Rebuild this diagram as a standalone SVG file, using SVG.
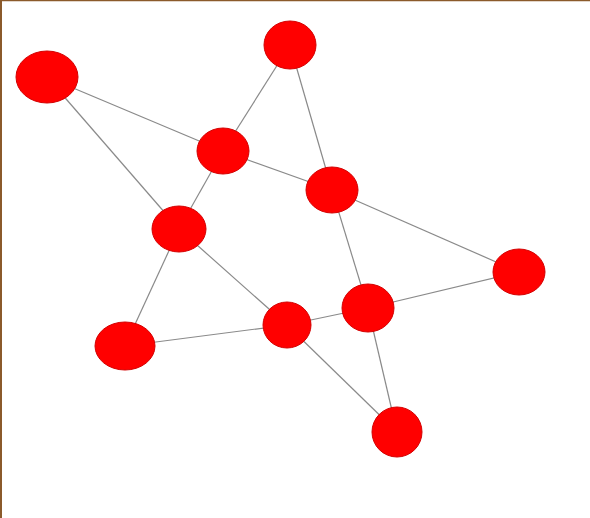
<svg xmlns="http://www.w3.org/2000/svg" width="590" height="518" viewBox="0 0 590 518">
<style>
.e{stroke:#8a8a8a;stroke-width:1.2;fill:none}
.n{fill:#ff0000;stroke:#d40000;stroke-width:1}
</style>
<rect x="0" y="0" width="590" height="518" fill="#ffffff"/>
<line x1="0" y1="0.5" x2="590" y2="0.5" stroke="#8b5a2b" stroke-width="1.5"/>
<line x1="1" y1="0" x2="1" y2="518" stroke="#8b5a2b" stroke-width="2"/>
<g id="edges">
<line class="e" x1="47" y1="77" x2="223" y2="151"/>
<line class="e" x1="223" y1="151" x2="332" y2="190"/>
<line class="e" x1="332" y1="190" x2="519" y2="272"/>
<line class="e" x1="47" y1="77" x2="179" y2="229"/>
<line class="e" x1="179" y1="229" x2="287" y2="325"/>
<line class="e" x1="287" y1="325" x2="397" y2="432"/>
<line class="e" x1="290" y1="45" x2="223" y2="151"/>
<line class="e" x1="223" y1="151" x2="179" y2="229"/>
<line class="e" x1="179" y1="229" x2="125" y2="346"/>
<line class="e" x1="290" y1="45" x2="332" y2="190"/>
<line class="e" x1="332" y1="190" x2="368" y2="308"/>
<line class="e" x1="368" y1="308" x2="397" y2="432"/>
<line class="e" x1="125" y1="346" x2="287" y2="325"/>
<line class="e" x1="287" y1="325" x2="368" y2="308"/>
<line class="e" x1="368" y1="308" x2="519" y2="272"/>
</g>
<g id="nA"><ellipse class="n" cx="47" cy="77" rx="31" ry="26"/></g>
<g id="nB"><ellipse class="n" cx="290" cy="45" rx="26" ry="24"/></g>
<g id="nC"><ellipse class="n" cx="223" cy="151" rx="26" ry="23"/></g>
<g id="nD"><ellipse class="n" cx="332" cy="190" rx="26" ry="23"/></g>
<g id="nE"><ellipse class="n" cx="179" cy="229" rx="27" ry="23"/></g>
<g id="nF"><ellipse class="n" cx="519" cy="272" rx="26" ry="23"/></g>
<g id="nG"><ellipse class="n" cx="368" cy="308" rx="26" ry="24"/></g>
<g id="nH"><ellipse class="n" cx="287" cy="325" rx="24" ry="23"/></g>
<g id="nI"><ellipse class="n" cx="125" cy="346" rx="30" ry="24"/></g>
<g id="nJ"><ellipse class="n" cx="397" cy="432" rx="25" ry="25"/></g>
</svg>
